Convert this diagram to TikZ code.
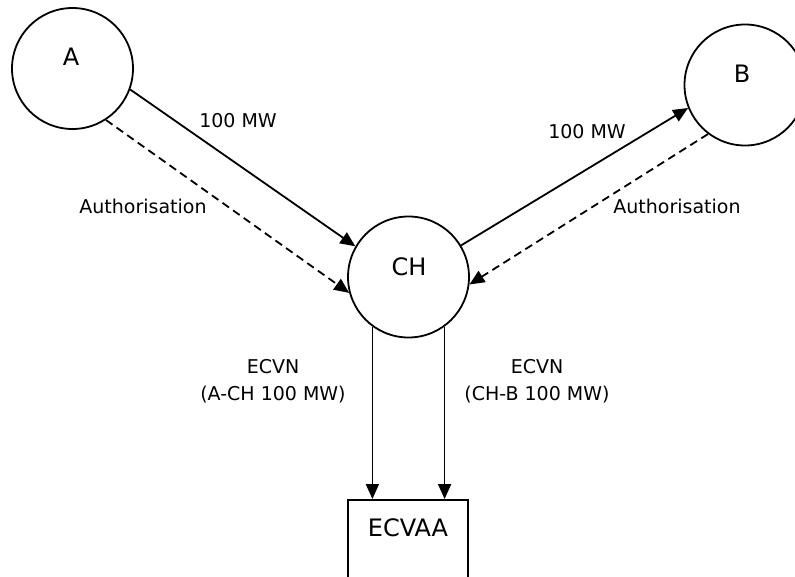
\documentclass[tikz,border=0pt]{standalone}
\usepackage{fontspec}
\setmainfont{DejaVu Sans}
\usetikzlibrary{arrows.meta,calc}
\begin{document}
\begin{tikzpicture}[x=1pt,y=-1pt,
  line width=1.8pt,
  circ/.style={draw,circle,minimum size=121pt,inner sep=0pt},
  ecbox/.style={draw,rectangle,minimum width=120pt,minimum height=110pt,anchor=north,inner sep=0pt},
  nmtext/.style={font=\fontsize{24}{28}\selectfont,inner sep=0pt},
  lab/.style={font=\fontsize{19}{27}\selectfont,inner sep=0pt,align=center},
  arr/.style={-{Triangle[length=15pt,width=13pt]}},
  dsh/.style={arr,dash pattern=on 8pt off 5pt}]
\useasboundingbox (0,0) rectangle (795,576);
% circles and box
\node[circ] (A) at (72.5,68.5) {};
\node[circ] (B) at (745,85) {};
\node[circ] (CH) at (408.5,277) {};
\node[ecbox] (E) at (408,499) {};
% names
\node[nmtext] (At) at (71,57) {A};
\node[nmtext] (Bt) at (742,74) {B};
\node[nmtext] (CHt) at (409,267) {CH};
\node[nmtext] (Et) at (408,528) {ECVAA};
% connectors
\draw[arr] (A.-20.5) -- (CH.150.7);
\draw[dsh] (A.-57.7) -- (CH.195.3);
\draw[arr] (CH.31.9) -- (B.202.9);
\draw[dsh] (B.233.3) -- (CH.-7.5);
\draw[arr] (CH.234) -- (CH.234 |- E.north);
\draw[arr] (CH.-54) -- (CH.-54 |- E.north);
% labels
\node[lab] (l1) at (238,121) {100 MW};
\node[lab] (l2) at (143,206) {Authorisation};
\node[lab] (l3) at (587,132) {100 MW};
\node[lab] (l4) at (677,206) {Authorisation};
\node[lab] (l5) at (273,381.5) {ECVN\\(A-CH 100 MW)};
\node[lab] (l6) at (537,381.5) {ECVN\\(CH-B 100 MW)};
\end{tikzpicture}
\end{document}
